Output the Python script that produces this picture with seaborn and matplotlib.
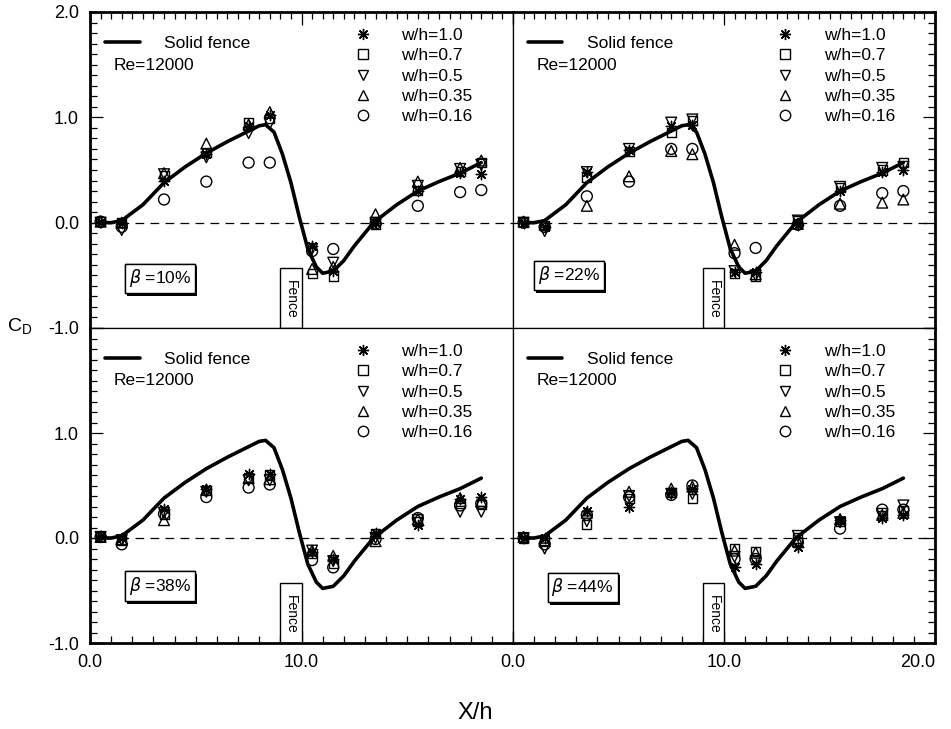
import numpy as np
import pandas as pd
import seaborn as sns
import matplotlib.pyplot as plt
import matplotlib.patheffects as pe
from matplotlib.lines import Line2D
from matplotlib.ticker import MultipleLocator
from matplotlib import font_manager

# Data
x_pos = [0.5, 1.5, 3.5, 5.5, 7.5, 8.5, 10.5, 11.5, 13.5, 15.5, 17.5, 18.5]
series_labels = ['w/h=1.0', 'w/h=0.7', 'w/h=0.5', 'w/h=0.35', 'w/h=0.16']

# beta = 10%
b10_w100 = [0.01, 0.00, 0.40, 0.65, 0.92, 1.02, -0.22, -0.46, 0.00, 0.30, 0.47, 0.46]
b10_w070 = [0.01, 0.00, 0.45, 0.67, 0.95, 0.99, -0.48, -0.51, -0.02, 0.31, 0.49, 0.57]
b10_w050 = [0.00, -0.07, 0.46, 0.62, 0.85, 0.94, -0.25, -0.38, 0.00, 0.35, 0.51, 0.55]
b10_w035 = [0.01, 0.00, 0.47, 0.75, 0.93, 1.05, -0.44, -0.42, 0.08, 0.39, 0.52, 0.59]
b10_w016 = [0.01, -0.04, 0.22, 0.39, 0.57, 0.57, -0.27, -0.25, -0.01, 0.16, 0.29, 0.31]

# beta = 22%
b22_w100 = [0.00, -0.04, 0.48, 0.69, 0.92, 0.93, -0.47, -0.47, -0.02, 0.30, 0.48, 0.50]
b22_w070 = [0.00, -0.03, 0.43, 0.68, 0.86, 0.97, -0.48, -0.51, 0.02, 0.33, 0.50, 0.57]
b22_w050 = [0.00, -0.08, 0.48, 0.70, 0.95, 0.98, -0.46, -0.50, 0.02, 0.34, 0.52, 0.53]
b22_w035 = [0.01, -0.02, 0.16, 0.44, 0.68, 0.65, -0.21, -0.49, -0.01, 0.18, 0.19, 0.22]
b22_w016 = [0.00, -0.04, 0.25, 0.39, 0.70, 0.70, -0.29, -0.24, -0.02, 0.16, 0.28, 0.30]

# beta = 38%
b38_w100 = [0.02, 0.00, 0.28, 0.47, 0.61, 0.61, -0.13, -0.20, 0.05, 0.12, 0.37, 0.39]
b38_w070 = [0.01, -0.02, 0.22, 0.45, 0.58, 0.60, -0.15, -0.24, 0.04, 0.16, 0.33, 0.32]
b38_w050 = [0.01, -0.02, 0.24, 0.44, 0.55, 0.55, -0.12, -0.22, 0.00, 0.17, 0.25, 0.25]
b38_w035 = [0.01, -0.01, 0.17, 0.46, 0.57, 0.56, -0.12, -0.17, -0.03, 0.18, 0.38, 0.35]
b38_w016 = [0.01, -0.06, 0.23, 0.39, 0.48, 0.51, -0.21, -0.28, -0.01, 0.19, 0.31, 0.33]

# beta = 44%
b44_w100 = [0.00, 0.00, 0.26, 0.30, 0.44, 0.47, -0.28, -0.25, -0.09, 0.17, 0.19, 0.22]
b44_w070 = [0.00, -0.02, 0.13, 0.38, 0.43, 0.38, -0.10, -0.13, 0.00, 0.16, 0.21, 0.26]
b44_w050 = [0.00, -0.10, 0.16, 0.40, 0.42, 0.42, -0.18, -0.22, 0.02, 0.15, 0.23, 0.31]
b44_w035 = [0.01, -0.03, 0.24, 0.44, 0.47, 0.49, -0.12, -0.14, -0.03, 0.18, 0.22, 0.24]
b44_w016 = [0.00, -0.06, 0.22, 0.39, 0.41, 0.50, -0.20, -0.20, -0.04, 0.09, 0.27, 0.27]

# solid fence curve (same in every panel)
curve_x = [0.4, 1.0, 1.5, 2.5, 3.5, 4.5, 5.5, 6.5, 7.5, 8.0, 8.3, 8.7, 9.1, 9.5,
           9.9, 10.3, 10.7, 11.0, 11.5, 12.0, 12.5, 13.4, 14.5, 15.5, 16.5, 17.5, 18.5]
curve_y = [0.0, 0.0, 0.02, 0.17, 0.38, 0.53, 0.66, 0.77, 0.87, 0.92, 0.93, 0.86, 0.65, 0.38,
           0.05, -0.25, -0.42, -0.48, -0.46, -0.36, -0.22, 0.0, 0.17, 0.30, 0.39, 0.47, 0.57]

panel_betas = ['10%', '22%', '38%', '44%']
panel_data = [
    [b10_w100, b10_w070, b10_w050, b10_w035, b10_w016],
    [b22_w100, b22_w070, b22_w050, b22_w035, b22_w016],
    [b38_w100, b38_w070, b38_w050, b38_w035, b38_w016],
    [b44_w100, b44_w070, b44_w050, b44_w035, b44_w016],
]
beta_box_xy = [(3.3, -0.53), (2.65, -0.50), (3.3, -0.46), (3.3, -0.47)]
fence_x = [9.5]
fence_top = -0.43

# Style
sns.set_theme(style='ticks')
installed = {f.name for f in font_manager.fontManager.ttflist}
main_font = 'Liberation Sans Narrow' if 'Liberation Sans Narrow' in installed else 'Liberation Sans'
plt.rcParams['font.family'] = [main_font, 'DejaVu Sans']
plt.rcParams['xtick.direction'] = 'in'
plt.rcParams['ytick.direction'] = 'in'
for key in ['text.color', 'axes.labelcolor', 'xtick.color', 'ytick.color', 'axes.edgecolor']:
    plt.rcParams[key] = 'black'

marker_styles = {
    'w/h=1.0': dict(marker=(8, 2, 0), s=55),
    'w/h=0.7': dict(marker='s', s=42),
    'w/h=0.5': dict(marker='v', s=60),
    'w/h=0.35': dict(marker='^', s=60),
    'w/h=0.16': dict(marker='o', s=62),
}

fig = plt.figure(figsize=(9.51, 7.29), dpi=100)

left, midx, right = 90 / 951, 513 / 951, 935 / 951
top, midy, bottom = 1 - 12 / 729, 1 - 328 / 729, 1 - 643 / 729
w, h = midx - left, top - midy
positions = [
    [left, midy, w, h], [midx, midy, right - midx, h],
    [left, bottom, w, midy - bottom], [midx, bottom, right - midx, midy - bottom],
]

for i, pos in enumerate(positions):
    ax = fig.add_axes(pos)
    is_top = i < 2
    is_left = i % 2 == 0

    # fence block
    ax.bar(fence_x, fence_top + 1.0, bottom=-1.0, width=1.0, facecolor='white',
           edgecolor='black', linewidth=1.0, zorder=1)
    ax.text(fence_x[0], -0.73, 'Fence', rotation=-90, ha='center', va='center',
            fontsize=10, zorder=2)

    ax.axhline(0, color='black', lw=0.9, ls=(0, (7, 5)), zorder=1)

    sns.lineplot(x=curve_x, y=curve_y, color='black', lw=2.6, sort=False, ax=ax, zorder=3)

    df = pd.DataFrame({
        'x': np.tile(x_pos, len(series_labels)),
        'y': np.concatenate(panel_data[i]),
        'series': np.repeat(series_labels, len(x_pos)),
    })
    for lab in series_labels:
        sub = df[df['series'] == lab]
        st = marker_styles[lab]
        if lab == 'w/h=1.0':
            sns.scatterplot(data=sub, x='x', y='y', marker=st['marker'], s=st['s'],
                            color='black', linewidth=1.0, ax=ax, zorder=4, legend=False)
        else:
            sns.scatterplot(data=sub, x='x', y='y', marker=st['marker'], s=st['s'],
                            facecolor='none', edgecolor='black', linewidth=1.0, ax=ax,
                            zorder=4, legend=False)

    ax.set_xlim(0, 20)
    ax.set_ylim(-1, 2)
    ax.set_xlabel('')
    ax.set_ylabel('')

    # legends
    solid = Line2D([], [], color='black', lw=2.6)
    leg1 = ax.legend([solid], ['Solid fence'], loc='upper left', bbox_to_anchor=(0.035, 0.925),
                     frameon=False, fontsize=12.5, handlelength=2.0, handletextpad=1.4,
                     borderpad=0, borderaxespad=0)
    ax.add_artist(leg1)
    ax.text(0.055, 0.832, 'Re=12000', transform=ax.transAxes, fontsize=12.5, va='center')

    handles = []
    for lab in series_labels:
        st = marker_styles[lab]
        if lab == 'w/h=1.0':
            handles.append(Line2D([], [], ls='none', marker=st['marker'], color='black',
                                  markersize=8, markeredgewidth=1.0))
        else:
            handles.append(Line2D([], [], ls='none', marker=st['marker'], markerfacecolor='none',
                                  markeredgecolor='black', markersize=7.5, markeredgewidth=1.0))
    ax.legend(handles, series_labels, loc='upper left', bbox_to_anchor=(0.625, 0.95),
              frameon=False, fontsize=12.5, handlelength=1.0, handletextpad=1.7,
              labelspacing=0.3, borderpad=0, borderaxespad=0)

    # beta box
    bx, by = beta_box_xy[i]
    t = ax.text(bx, by, r'$\beta$ =' + panel_betas[i], ha='center', va='center', fontsize=12.5,
                zorder=5, bbox=dict(boxstyle='square,pad=0.22', fc='white', ec='black', lw=1.0))
    t.get_bbox_patch().set_path_effects([
        pe.withSimplePatchShadow(offset=(1.8, -1.8), shadow_rgbFace='black', alpha=1.0),
        pe.Normal()])

    # ticks
    ax.xaxis.set_minor_locator(MultipleLocator(0.5 if is_top else 1.0))
    ax.yaxis.set_minor_locator(MultipleLocator(0.1))
    ax.set_xticks([0, 10, 20])
    ax.set_yticks([-1, 0, 1, 2])
    ax.tick_params(which='both', top=is_top, bottom=not is_top, left=is_left, right=not is_left,
                   labeltop=False, labelright=False, labelleft=is_left, labelbottom=not is_top,
                   width=0.9, color='black', labelsize=13, pad=8)
    ax.tick_params(which='major', length=9)
    ax.tick_params(which='minor', length=5)
    if is_left:
        ax.set_yticklabels(['-1.0', '0.0', '1.0', '2.0' if is_top else ''])
    if not is_top:
        ax.set_xticklabels(['0.0', '10.0', '20.0' if not is_left else ''])
        if not is_left:
            ax.get_xticklabels()[-1].set_horizontalalignment('right')

    for side in ['left', 'right', 'top', 'bottom']:
        ax.spines[side].set_linewidth(0.9)
    ax.spines['top' if is_top else 'bottom'].set_linewidth(2.0)
    ax.spines['left' if is_left else 'right'].set_linewidth(2.0)

fig.text(0.021, 0.551, r'C$_\mathregular{D}$', fontsize=14, ha='center', va='center')
fig.text(0.4995, 0.022, 'X/h', fontsize=17, ha='center', va='center')

fig.savefig('out.png', dpi=100, facecolor='white')
